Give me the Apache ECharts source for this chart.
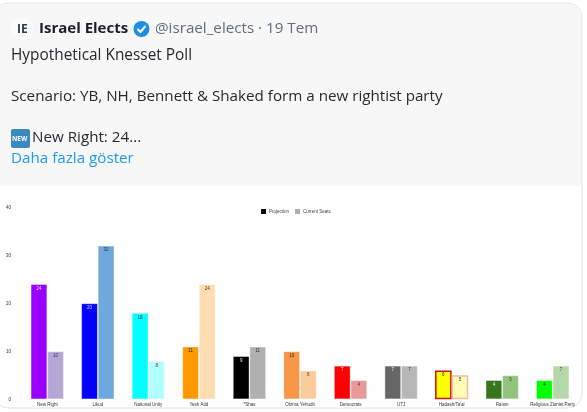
<!DOCTYPE html>
<html>
<head>
<meta charset="utf-8">
<style>
  html, body { margin: 0; padding: 0; background: #fff; }
  #chart { width: 587px; height: 412px; filter: blur(0.35px); }
</style>
<script src="https://cdn.jsdelivr.net/npm/echarts@6/dist/echarts.min.js"></script>
</head>
<body>
<div id="chart"></div>
<script>
const categories = ['New Right', 'Likud', 'National Unity', 'Yesh Atid', '*Shas', 'Otzma Yehudit', 'Democrats', 'UTJ', 'Hadash/Ta\'al', 'Ra\'am', 'Religious Zionist Party'];
const projection = [24, 20, 18, 11, 9, 10, 7, 7, 6, 4, 4];
const currentSeats = [10, 32, 8, 24, 11, 6, 4, 7, 5, 5, 7];
const yTicks = [0, 10, 20, 30, 40];

const projectionColors = ['#9900ff', '#0000ff', '#00ffff', '#ff9900', '#000000', '#f79646', '#ff0000', '#666666', '#ffff00', '#38761d', '#00ff00'];
const currentColors = ['#b4a7d6', '#6fa8dc', '#b3ffff', '#ffddb0', '#b0b0b0', '#fbcb9c', '#ea9999', '#b7b7b7', '#ffffb3', '#93c47d', '#b6d7a8'];
const projectionLabelColors = ['#e8d8ff', '#d8d8ff', '#222', '#222', '#eee', '#222', '#ffe8e8', '#eee', '#222', '#eee', '#222'];

const hadash = categories.indexOf('Hadash/Ta\'al');
const uiFont = '"Open Sans", "Noto Sans", sans-serif';
const smallFont = 'Arial, "Liberation Sans", sans-serif';

function seriesData(values, colors, labelColors) {
  return values.map((v, i) => ({
    value: v,
    itemStyle: {
      color: colors[i],
      borderColor: i === hadash ? (labelColors ? '#cc1111' : '#f6b8a8') : 'rgba(255,255,255,0.5)',
      borderWidth: i === hadash ? 1.5 : 0.8
    },
    label: { color: labelColors ? labelColors[i] : '#333' }
  }));
}

const chart = echarts.init(document.getElementById('chart'), null, { renderer: 'canvas' });

// tweet header sits behind the chart
const tweetText = (x, y, text, size, fill, weight) => ({
  type: 'text', x, y, z: 2,
  style: { text, fontSize: size, fontFamily: uiFont, fill, fontWeight: weight || 400, textVerticalAlign: 'middle' }
});

chart.setOption({
  animation: false,
  backgroundColor: '#ffffff',
  graphic: [
    { type: 'rect', z: -2, shape: { x: -6, y: 3, width: 588, height: 405, r: 14 }, style: { fill: '#ffffff', stroke: '#dfe5e8', lineWidth: 1 } },
    { type: 'rect', z: -1, shape: { x: -5, y: 4, width: 586, height: 182, r: [13, 13, 0, 0] }, style: { fill: '#f7f7f7' } },
    { type: 'circle', z: 1, shape: { cx: 22, cy: 29, r: 11 }, style: { fill: '#fbfbfb' } },
    tweetText(17, 30, 'IE', 12, '#2b3a55', 700),
    tweetText(39, 29, 'Israel Elects', 15, '#1a1f24', 700),
    { type: 'circle', z: 1, shape: { cx: 141.5, cy: 29, r: 8 }, style: { fill: '#1d8fe0' } },
    { type: 'polyline', z: 2, shape: { points: [[137.5, 29], [140.5, 32], [145.5, 26]] }, style: { stroke: '#fff', lineWidth: 2, fill: 'none' } },
    tweetText(155, 29, '@israel_elects · 19 Tem', 15.2, '#5f6e7a'),
    tweetText(11, 56, 'Hypothetical Knesset Poll', 15.4, '#24292d'),
    tweetText(11, 97, 'Scenario: YB, NH, Bennett & Shaked form a new rightist party', 15.2, '#24292d'),
    { type: 'rect', z: 1, shape: { x: 11, y: 129, width: 19, height: 19, r: 2 }, style: { fill: '#3b88c3' } },
    tweetText(12, 139, 'NEW', 6.5, '#ffffff', 700),
    tweetText(32, 138, 'New Right: 24...', 15.2, '#24292d'),
    tweetText(11, 159, 'Daha fazla göster', 15.2, '#1d9bf0')
  ],
  legend: {
    top: 204,
    left: 256,
    itemWidth: 5,
    itemHeight: 5,
    itemGap: 6,
    icon: 'rect',
    textStyle: { fontSize: 4.5, color: '#444', fontFamily: smallFont, padding: [0, 0, 0, -2] },
    data: [
      { name: 'Projection', itemStyle: { color: '#000000' } },
      { name: 'Current Seats', itemStyle: { color: '#b0b0b0' } }
    ]
  },
  grid: { left: 22, right: 9, top: 207.3, bottom: 12.7 },
  xAxis: {
    type: 'category',
    data: categories,
    axisLine: { show: false },
    axisTick: { show: false },
    axisLabel: { interval: 0, fontSize: 4.5, color: '#333', margin: 2.5, fontFamily: smallFont }
  },
  yAxis: {
    type: 'value',
    min: yTicks[0],
    max: yTicks[yTicks.length - 1],
    interval: 10,
    axisLine: { show: false },
    axisTick: { show: false },
    splitLine: { show: false },
    axisLabel: { fontSize: 4.5, color: '#333', margin: 11, fontFamily: smallFont }
  },
  series: [
    {
      name: 'Projection',
      type: 'bar',
      barWidth: 16.6,
      barGap: 0,
      data: seriesData(projection, projectionColors, projectionLabelColors),
      label: { show: true, position: 'insideTop', distance: 2, fontSize: 4.5, fontFamily: smallFont }
    },
    {
      name: 'Current Seats',
      type: 'bar',
      barWidth: 16.6,
      data: seriesData(currentSeats, currentColors, null),
      label: { show: true, position: 'insideTop', distance: 2, fontSize: 4.5, fontFamily: smallFont }
    }
  ]
});
</script>
</body>
</html>
